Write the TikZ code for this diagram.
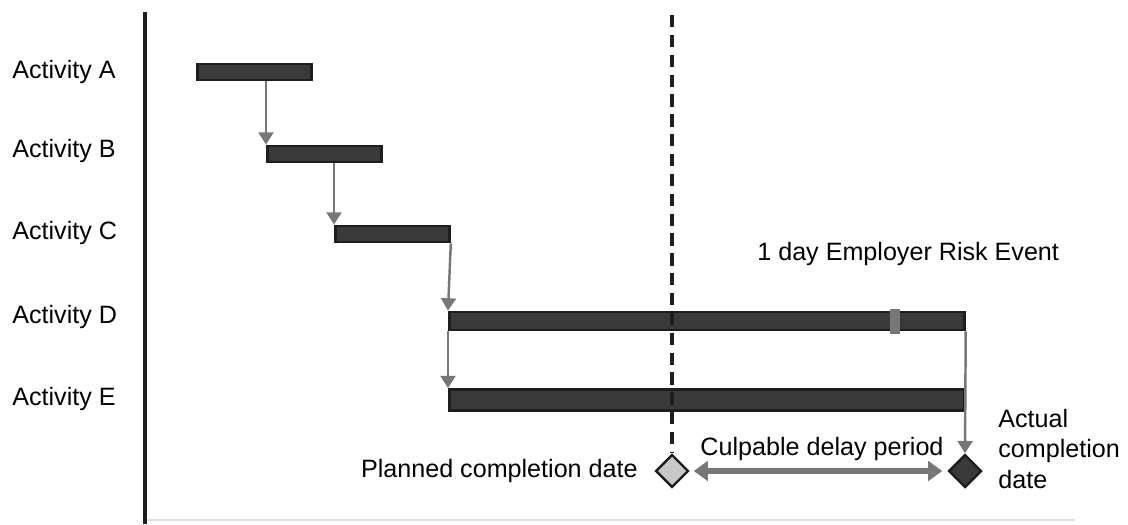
\documentclass[tikz,border=0pt]{standalone}
\usepackage{fontspec}
\setmainfont{Liberation Sans}
\usetikzlibrary{arrows.meta}
\usetikzlibrary{shapes.geometric}
\definecolor{barfill}{HTML}{3A3A3A}
\definecolor{barline}{HTML}{1E1E1E}
\definecolor{linkgray}{HTML}{777777}
\definecolor{planfill}{HTML}{C8C8C8}

\begin{document}
\begin{tikzpicture}[x=0.02cm,y=-0.02cm,
        bar/.style={draw=barline,fill=barfill,line width=1.6pt,minimum height=0.32cm,inner sep=0pt,anchor=west},
        link/.style={draw=linkgray,line width=1.4pt,-{Triangle[width=8.5pt,length=7pt]}},
        milestone/.style={diamond,draw=barline,line width=1.4pt,minimum size=0.66cm,inner sep=0pt},
        lbl/.style={font=\fontsize{14.3}{17.5}\selectfont,inner sep=0pt}]
        \useasboundingbox (0,0) rectangle (1128,524);
        % axes
        \draw[line width=2.8pt,color=barline] (145,12) -- (145,524);
        \draw[line width=1pt,color=black!12] (148,520) -- (1075,520);
        % activity labels
        \foreach \name/\ypos in {A/72,B/151,C/233,D/317,E/399}
            \node[lbl,anchor=west] (lab\name) at (12,\ypos) {Activity \name};
        % bars
        \node[bar,minimum width=2.28cm] (A) at (196,72) {};
        \node[bar,minimum width=2.28cm] (B) at (266,154) {};
        \node[bar,minimum width=2.28cm] (C) at (334,234) {};
        \node[bar,minimum width=10.3cm,minimum height=0.36cm] (D) at (448,321) {};
        \node[bar,minimum width=10.3cm,minimum height=0.42cm] (E) at (448,400) {};
        \node[fill=linkgray,minimum width=0.2cm,minimum height=0.5cm,inner sep=0pt] (risk) at (895,321) {};
        % milestones
        \node[milestone,fill=planfill] (plan) at (672,471) {};
        \node[milestone,fill=barfill] (act) at (965,471) {};
        % planned completion
        \coordinate (top) at (672,15);
        \draw[line width=2.2pt,color=barline,dash pattern=on 7pt off 4.3pt] (top) -- (plan.north);
        % links
        \draw[link] (B.west |- A.south) -- (B.north west);
        \draw[link] (C.west |- B.south) -- (C.north west);
        \draw[link] (C.south east) -- (D.north west);
        \draw[link] (D.south west) -- (E.north west);
        \draw[link] (D.south east) -- (act.north);
        \draw[draw=linkgray,line width=3.2pt,{Triangle[width=11pt,length=8pt]}-{Triangle[width=11pt,length=8pt]},shorten <=0.08cm,shorten >=0.1cm] (plan) -- (act);
        % texts
        \node[lbl,anchor=east] (plantext) at (638,471) {Planned completion date};
        \node[lbl] (delay) at (822,449) {Culpable delay period};
        \node[lbl,anchor=west,align=left] (acttext) at (998,449) {Actual\\completion\\date};
        \node[lbl,anchor=west] (riskevent) at (757,254) {1 day Employer Risk Event};
    \end{tikzpicture}
\end{document}
